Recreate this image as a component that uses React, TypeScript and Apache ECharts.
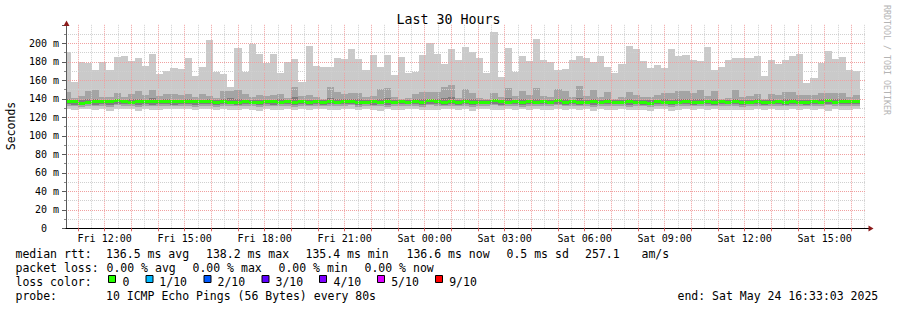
import React, { useEffect, useRef } from 'react';
import * as echarts from 'echarts';

const FONT = "'DejaVu Sans Mono', monospace";

// Time axis: hours since Fri 00:00 (local)
const AXIS_START = 10 + 33 / 60 + 3 / 3600; // Fri 10:33:03
const AXIS_END = AXIS_START + 30; // Sat 16:33:03
const FIRST_BAR_START = 10 + 28 / 60; // 16-minute consolidation steps
const BAR_STEP = 16 / 60;

const X_LABEL_HOURS = [12, 15, 18, 21, 24, 27, 30, 33, 36, 39];
const X_LABELS = ['Fri 12:00', 'Fri 15:00', 'Fri 18:00', 'Fri 21:00', 'Sat 00:00', 'Sat 03:00', 'Sat 06:00', 'Sat 09:00', 'Sat 12:00', 'Sat 15:00'];
const HOUR_TICKS = [11, 12, 13, 14, 15, 16, 17, 18, 19, 20, 21, 22, 23, 24, 25, 26, 27, 28, 29, 30, 31, 32, 33, 34, 35, 36, 37, 38, 39, 40];
const GRID_HOUR_FIRST = 11;
const GRID_HOUR_LAST = 41;

// smoke: highest ping (ms)
const PING_MAX = [
  190.3, 158.6, 179.5, 179.1, 171.2, 179.5, 171.2, 185.2,
  186.3, 180.5, 183.8, 175.9, 188.5, 166.5, 169.7, 173.0,
  172.3, 183.8, 164.7, 174.4, 203.6, 169.0, 166.8, 153.2,
  194.6, 169.4, 199.3, 188.5, 179.1, 188.5, 167.6, 179.5,
  183.1, 158.6, 197.1, 175.5, 174.4, 174.4, 184.1, 182.7,
  193.5, 182.7, 171.2, 187.4, 174.4, 187.4, 165.8, 184.9,
  167.6, 169.4, 187.4, 200.0, 188.8, 177.3, 193.9, 182.0,
  196.0, 190.3, 184.1, 168.3, 211.9, 164.0, 195.0, 168.6,
  186.3, 180.9, 204.7, 182.0, 179.5, 171.2, 172.3, 182.0,
  186.3, 184.1, 179.5, 186.3, 174.4, 168.3, 178.0, 197.1,
  193.9, 180.9, 173.3, 176.6, 173.3, 193.9, 186.3, 187.4,
  182.0, 180.9, 196.0, 171.2, 174.4, 181.6, 184.1, 184.1,
  184.1, 186.3, 164.7, 182.0, 178.0, 182.0, 186.3, 188.5,
  157.5, 162.8, 179.1, 191.7, 183.1, 185.2, 171.2, 170.1,
];
// second highest ping
const PING_9 = [
  147.7, 141.3, 143.0, 148.8, 149.5, 141.6, 142.3, 146.7,
  142.3, 145.2, 148.8, 143.8, 149.5, 143.0, 145.2, 145.2,
  143.8, 145.2, 142.3, 145.2, 143.0, 140.5, 148.8, 148.5,
  149.5, 145.2, 141.6, 144.1, 143.0, 144.1, 145.2, 140.9,
  152.4, 143.0, 144.1, 141.6, 139.5, 152.4, 147.7, 145.2,
  146.7, 146.7, 142.3, 143.0, 150.3, 151.4, 141.6, 140.2,
  140.5, 145.2, 147.4, 147.7, 147.7, 153.2, 155.0, 140.5,
  150.6, 146.7, 140.9, 139.5, 145.9, 141.6, 151.7, 143.0,
  148.5, 144.1, 151.7, 143.0, 142.3, 150.6, 148.5, 142.3,
  153.9, 143.0, 149.5, 142.3, 147.4, 140.2, 142.3, 147.4,
  144.1, 142.3, 141.6, 144.1, 145.9, 146.7, 148.5, 148.5,
  145.9, 149.5, 143.0, 148.5, 140.2, 140.9, 149.5, 141.6,
  143.0, 145.2, 139.5, 145.2, 144.1, 147.4, 147.4, 144.1,
  144.1, 143.8, 145.9, 145.9, 145.9, 145.9, 142.3, 144.1,
];
// third highest ping
const PING_8 = [
  139.5, 138.8, 138.2, 139.8, 140.2, 138.6, 138.9, 140.1,
  138.7, 139.4, 140.3, 138.9, 140.6, 138.8, 139.3, 139.1,
  139.0, 139.6, 138.7, 139.2, 139.4, 138.3, 140.1, 141.2,
  139.8, 139.1, 138.6, 139.0, 138.8, 139.1, 139.3, 138.5,
  141.5, 138.9, 139.0, 138.7, 138.4, 140.8, 139.9, 139.3,
  139.6, 139.7, 138.7, 138.9, 140.2, 140.6, 138.6, 138.4,
  138.5, 139.3, 139.5, 140.2, 139.8, 141.0, 141.6, 138.4,
  139.9, 139.4, 138.5, 138.3, 139.6, 138.6, 140.4, 138.9,
  139.8, 139.0, 140.3, 138.9, 138.7, 140.3, 139.9, 138.8,
  141.3, 138.9, 139.8, 138.7, 139.6, 138.3, 138.7, 139.5,
  139.0, 138.8, 138.6, 139.0, 139.4, 139.2, 139.7, 139.8,
  139.3, 140.0, 139.0, 139.9, 138.4, 138.5, 140.1, 138.6,
  138.9, 139.3, 138.2, 139.3, 139.0, 139.6, 139.7, 139.0,
  139.1, 139.0, 139.4, 139.7, 139.5, 139.6, 138.8, 139.1,
];
// median rtt
const MEDIAN = [
  137.3, 136.6, 135.2, 136.2, 136.6, 136.6, 136.6, 138.0,
  136.6, 136.4, 136.6, 136.9, 136.9, 136.6, 136.6, 136.7,
  137.3, 137.2, 137.3, 136.6, 136.9, 135.8, 136.8, 136.5,
  136.4, 136.7, 136.5, 136.4, 136.6, 136.7, 136.5, 136.6,
  136.4, 136.8, 136.5, 136.6, 136.3, 136.6, 136.5, 136.7,
  137.6, 136.5, 136.4, 136.6, 136.5, 136.7, 136.5, 136.6,
  136.4, 136.6, 136.5, 138.0, 136.6, 136.5, 136.7, 136.3,
  136.6, 136.4, 136.2, 136.5, 138.2, 136.6, 136.5, 136.7,
  136.4, 136.6, 136.5, 136.6, 136.5, 137.9, 136.5, 136.6,
  136.4, 136.5, 136.6, 136.5, 136.7, 136.4, 136.5, 136.6,
  136.5, 136.3, 135.4, 136.6, 136.5, 135.6, 136.5, 136.6,
  136.4, 136.5, 136.6, 136.4, 136.6, 136.5, 136.7, 136.4,
  136.5, 136.6, 136.5, 136.4, 136.6, 136.5, 136.7, 136.5,
  136.4, 136.6, 136.5, 137.8, 136.5, 137.0, 136.6, 136.6,
];
// third lowest ping
const PING_3 = [
  134.2, 133.6, 133.1, 134.0, 133.8, 134.3, 133.5, 134.6,
  133.9, 134.1, 133.4, 134.2, 133.7, 134.0, 134.3, 133.8,
  134.4, 134.0, 133.6, 134.2, 134.1, 133.2, 133.9, 134.3,
  133.7, 134.2, 134.0, 133.5, 134.1, 133.8, 134.3, 133.9,
  133.4, 134.1, 133.8, 134.2, 133.6, 134.0, 133.9, 134.4,
  134.5, 133.7, 134.1, 133.8, 134.2, 133.5, 134.0, 134.3,
  133.9, 134.1, 133.6, 134.6, 134.0, 133.7, 134.2, 133.8,
  134.1, 133.5, 133.9, 134.2, 134.7, 133.8, 134.0, 134.3,
  133.6, 134.1, 133.9, 134.2, 134.0, 134.5, 133.7, 134.1,
  133.8, 134.2, 133.5, 134.0, 134.3, 133.9, 134.1, 133.6,
  134.2, 133.8, 133.0, 134.1, 133.9, 133.3, 134.0, 134.2,
  133.7, 134.1, 134.0, 133.8, 134.2, 133.9, 134.3, 133.6,
  134.0, 134.2, 133.8, 133.9, 134.1, 133.7, 134.3, 134.0,
  133.8, 134.1, 133.9, 134.6, 134.0, 134.3, 133.9, 134.1,
];
// second lowest ping
const PING_2 = [
  132.4, 131.8, 131.2, 132.3, 131.9, 132.6, 131.4, 132.8,
  132.1, 132.5, 131.3, 132.2, 131.7, 132.4, 132.6, 131.9,
  132.7, 132.2, 131.6, 132.5, 132.3, 131.1, 132.0, 132.6,
  131.8, 132.4, 132.2, 131.5, 132.3, 131.9, 132.7, 132.0,
  131.4, 132.3, 131.8, 132.5, 131.7, 132.2, 132.0, 132.6,
  132.8, 131.6, 132.4, 131.9, 132.5, 131.3, 132.1, 132.6,
  132.0, 132.4, 131.5, 132.9, 132.2, 131.7, 132.5, 131.8,
  132.3, 131.4, 132.0, 132.5, 133.0, 131.9, 132.2, 132.7,
  131.6, 132.3, 132.0, 132.4, 132.1, 132.8, 131.7, 132.3,
  131.9, 132.5, 131.4, 132.2, 132.6, 132.0, 132.3, 131.6,
  132.4, 131.8, 131.0, 132.3, 132.0, 131.2, 132.2, 132.5,
  131.7, 132.3, 132.1, 131.9, 132.4, 132.0, 132.6, 131.5,
  132.1, 132.5, 131.8, 132.0, 132.3, 131.7, 132.6, 132.2,
  131.9, 132.3, 132.0, 132.8, 132.1, 132.5, 132.0, 132.3,
];
// lowest ping
const PING_MIN = [
  129.0, 128.1, 128.6, 129.2, 127.9, 128.8, 126.9, 128.7,
  129.1, 129.0, 126.6, 128.6, 127.8, 128.2, 128.7, 129.1,
  128.6, 128.6, 127.7, 129.1, 129.0, 128.2, 128.6, 128.1,
  127.6, 128.9, 128.3, 127.2, 129.0, 128.4, 127.8, 129.2,
  128.0, 128.5, 127.4, 129.0, 128.7, 127.9, 128.3, 128.8,
  129.3, 127.5, 128.6, 128.1, 127.3, 128.9, 128.4, 127.7,
  128.5, 129.0, 127.9, 128.4, 127.6, 128.8, 129.1, 127.8,
  128.7, 127.2, 128.5, 129.2, 128.3, 127.4, 128.9, 128.0,
  128.6, 127.8, 129.0, 128.4, 127.5, 128.7, 128.2, 129.1,
  127.9, 128.5, 127.3, 128.8, 128.1, 127.6, 128.9, 128.4,
  128.2, 127.7, 126.8, 128.6, 128.9, 127.1, 128.3, 128.5,
  127.4, 128.8, 128.0, 128.6, 127.9, 128.4, 128.1, 127.6,
  128.3, 128.9, 127.8, 128.5, 128.2, 127.5, 128.7, 128.0,
  128.6, 128.1, 128.9, 127.3, 128.5, 128.0, 128.4, 128.7,
];

const LOSS_LABELS = ['0', '1/10', '2/10', '3/10', '4/10', '5/10', '9/10'];
const LOSS_COLORS = ['#26ff00', '#00b8ff', '#0059ff', '#5e00ff', '#7e00ff', '#dd00ff', '#ff0000'];

const GRID_LEFT = 66;
const GRID_TOP = 24.8;
const GRID_W = 800;
const GRID_H = 203.5;
const PX_PER_HOUR = GRID_W / (AXIS_END - AXIS_START);

const ARROW = '#8b1a1a';
const MAJOR = '#f0a0a0';
const MINOR = '#d0d0d0';

function txt(x: number, y: number, text: string, extra: any = {}) {
  return {
    type: 'text',
    x,
    y,
    silent: true,
    style: { text, fill: '#000', font: `11.5px ${FONT}`, align: 'left', verticalAlign: 'middle', ...extra },
  };
}

export default function App() {
  const ref = useRef<HTMLDivElement>(null);
  useEffect(() => {
    const chart = echarts.init(ref.current!, null, { renderer: 'svg' });
    const rows = PING_MAX.map((_, k) => [
      FIRST_BAR_START + k * BAR_STEP,
      FIRST_BAR_START + (k + 1) * BAR_STEP,
      PING_MIN[k], PING_2[k], PING_3[k], PING_8[k], PING_9[k], PING_MAX[k], MEDIAN[k],
    ]);

    const legendBoxX = [108, 145.5, 203.5, 261.5, 319, 377, 435];
    const legendLabelX = [122.5, 159.3, 217.5, 275.5, 333.5, 391.2, 449.2];

    const graphic: any[] = [
      { type: 'text', x: 448.5, y: 19.4, silent: true, style: { text: 'Last 30 Hours', fill: '#000', font: `13.3px ${FONT}`, align: 'center', verticalAlign: 'middle' } },
      { type: 'text', x: 10.8, y: 126, rotation: Math.PI / 2, silent: true, style: { text: 'Seconds', fill: '#000', font: `11.5px ${FONT}`, align: 'center', verticalAlign: 'middle' } },
      { type: 'text', x: 886.7, y: 60, rotation: -Math.PI / 2, silent: true, style: { text: 'RRDTOOL / TOBI OETIKER', fill: '#b4b4b4', font: `8.3px ${FONT}`, align: 'center', verticalAlign: 'middle' } },
      { type: 'polygon', silent: true, z: 10, shape: { points: [[63.5, 26], [66.5, 20.5], [69.5, 26]] }, style: { fill: ARROW } },
      { type: 'line', silent: true, z: 10, shape: { x1: 866, y1: 228.5, x2: 869, y2: 228.5 }, style: { stroke: '#000', lineWidth: 1 } },
      { type: 'polygon', silent: true, z: 10, shape: { points: [[868.5, 225.5], [873.5, 228.5], [868.5, 231.5]] }, style: { fill: ARROW } },
      txt(15.5, 254.3, 'median rtt:'),
      txt(106, 254.3, '136.5 ms avg'),
      txt(206, 254.3, '138.2 ms max'),
      txt(305.5, 254.3, '135.4 ms min'),
      txt(406.5, 254.3, '136.6 ms now'),
      txt(506.5, 254.3, '0.5 ms sd'),
      txt(585, 254.3, '257.1'),
      txt(641.5, 254.3, 'am/s'),
      txt(15.5, 268.3, 'packet loss:'),
      txt(106.5, 268.3, '0.00 % avg'),
      txt(192.5, 268.3, '0.00 % max'),
      txt(278.5, 268.3, '0.00 % min'),
      txt(364.5, 268.3, '0.00 % now'),
      txt(15.5, 282.3, 'loss color:'),
      txt(15.5, 296.3, 'probe:'),
      txt(106, 296.3, '10 ICMP Echo Pings (56 Bytes) every 80s'),
      txt(677.5, 296.3, 'end: Sat May 24 16:33:03 2025'),
    ];
    LOSS_LABELS.forEach((lab, i) => {
      graphic.push({
        type: 'rect', silent: true,
        shape: { x: legendBoxX[i] + 0.5, y: 275.5, width: 7, height: 7 },
        style: { fill: LOSS_COLORS[i], stroke: '#000', lineWidth: 1 },
      });
      graphic.push(txt(legendLabelX[i], 282.3, lab));
    });

    // second (overlay) grid whose time axis starts on a whole hour, for the vertical grid lines
    const grid2Left = GRID_LEFT + (GRID_HOUR_FIRST - AXIS_START) * PX_PER_HOUR;
    const grid2Width = (GRID_HOUR_LAST - GRID_HOUR_FIRST) * PX_PER_HOUR;

    const option: any = {
      animation: false,
      backgroundColor: '#fff',
      grid: [
        { left: GRID_LEFT, top: GRID_TOP, width: GRID_W, height: GRID_H },
        { left: grid2Left, top: GRID_TOP, width: grid2Width, height: GRID_H },
      ],
      xAxis: [
        {
          type: 'value',
          gridIndex: 0,
          min: AXIS_START,
          max: AXIS_END,
          z: 6,
          axisLine: { show: true, lineStyle: { color: '#000', width: 1 } },
          axisTick: { show: true, customValues: HOUR_TICKS, length: 3, lineStyle: { color: '#e06060' } },
          axisLabel: {
            customValues: X_LABEL_HOURS,
            margin: 5,
            fontFamily: FONT,
            fontSize: 10,
            color: '#000',
            formatter: (v: number) => {
              const i = X_LABEL_HOURS.indexOf(Math.round(v));
              return i >= 0 ? X_LABELS[i] : '';
            },
          },
          splitLine: { show: false },
        },
        {
          type: 'value',
          gridIndex: 1,
          min: GRID_HOUR_FIRST,
          max: GRID_HOUR_LAST,
          interval: 0.5,
          z: 4,
          axisLine: { show: false },
          axisTick: { show: false },
          axisLabel: { show: false },
          splitLine: { show: true, showMinLine: true, showMaxLine: false, lineStyle: { color: [MAJOR, MINOR], type: [1, 1], width: 1 } },
        },
      ],
      yAxis: [
        {
          type: 'value',
          gridIndex: 0,
          min: 0,
          max: 220,
          interval: 20,
          z: 5,
          axisLine: { show: true, lineStyle: { color: '#5a5a5a', width: 1 } },
          axisTick: { show: true, length: 4, lineStyle: { color: '#5a5a5a' } },
          minorTick: { show: true, splitNumber: 2, length: 2, lineStyle: { color: '#888' } },
          axisLabel: {
            margin: 7,
            fontFamily: FONT,
            fontSize: 10,
            color: '#000',
            formatter: (v: number) => (v === 0 ? '0\u00a0\u00a0' : v >= 220 ? '' : `${v} m`),
          },
          splitLine: { show: true, showMinLine: false, showMaxLine: false, lineStyle: { color: MAJOR, type: [1, 1], width: 1 } },
          minorSplitLine: { show: true, lineStyle: { color: MINOR, type: [1, 1], width: 1 } },
        },
        {
          type: 'value',
          gridIndex: 1,
          min: 0,
          max: 220,
          axisLine: { show: false },
          axisTick: { show: false },
          axisLabel: { show: false },
          splitLine: { show: false },
        },
      ],
      graphic: { elements: graphic },
      series: [
        {
          type: 'custom',
          clip: true,
          silent: true,
          z: 2,
          xAxisIndex: 0,
          yAxisIndex: 0,
          data: rows,
          encode: { x: [0, 1], y: [2, 3, 4, 5, 6, 7, 8] },
          renderItem: (params: any, api: any) => {
            const t0 = api.value(0);
            const t1 = api.value(1);
            const xa = Math.round(api.coord([t0, 0])[0]);
            const xb = Math.round(api.coord([t1, 0])[0]);
            const yv = (v: number) => api.coord([t0, v])[1];
            const band = (lo: number, hi: number, fill: string) => {
              const yt = Math.round(yv(hi));
              const yb = Math.round(yv(lo));
              return { type: 'rect', shape: { x: xa, y: yt, width: xb - xa, height: Math.max(yb - yt, 0) }, style: { fill } };
            };
            const ym = yv(api.value(8));
            return {
              type: 'group',
              children: [
                band(api.value(2), api.value(7), '#cacaca'),
                band(api.value(3), api.value(6), '#a4a4a4'),
                band(api.value(4), api.value(5), '#7e7e7e'),
                { type: 'rect', shape: { x: xa, y: Math.round(ym - 1.5), width: xb - xa, height: 3 }, style: { fill: LOSS_COLORS[0] } },
              ],
            };
          },
        },
        {
          type: 'line',
          xAxisIndex: 1,
          yAxisIndex: 1,
          silent: true,
          showSymbol: false,
          lineStyle: { opacity: 0 },
          data: [],
        },
      ],
    };
    chart.setOption(option);
    return () => chart.dispose();
  }, []);
  return <div ref={ref} style={{ position: 'absolute', left: 0, top: 0, width: 897, height: 310, background: '#fff' }} />;
}
